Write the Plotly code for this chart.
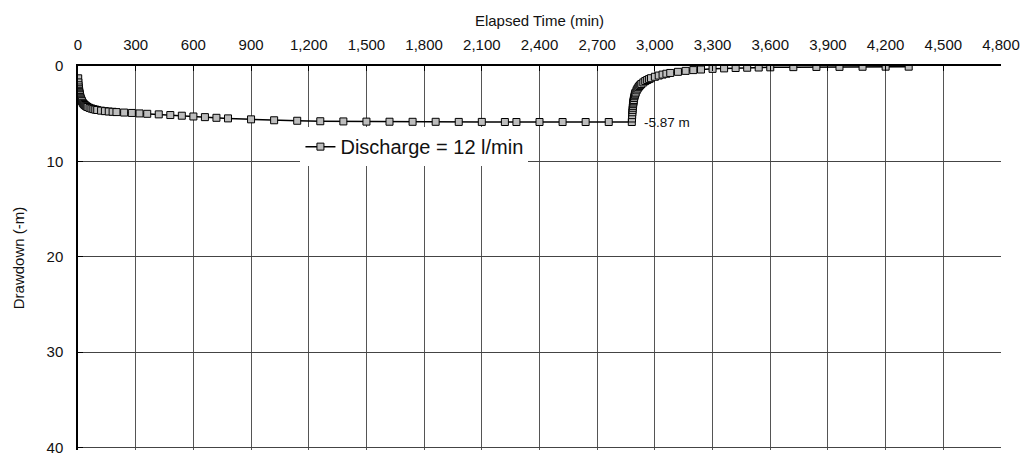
import plotly.graph_objects as go

# Pumping phase: elapsed time (min) and drawdown (m)
pump_time = [1, 2, 3, 4, 5, 6, 7, 8, 9, 10, 12, 14, 16, 18, 20, 25, 30, 35, 40, 45,
             50, 60, 70, 80, 90, 100, 120, 140, 160, 180, 200, 240, 280, 320, 360,
             420, 480, 540, 600, 660, 720, 780, 900, 1020, 1140, 1260, 1380, 1500,
             1620, 1740, 1860, 1980, 2100, 2220, 2280, 2400, 2520, 2640, 2760, 2880]
pump_drawdown = [1.29, 1.72, 2.02, 2.25, 2.44, 2.60, 2.74, 2.86, 2.97, 3.07, 3.24, 3.38,
                 3.50, 3.60, 3.69, 3.86, 3.99, 4.09, 4.17, 4.24, 4.30, 4.39, 4.46, 4.52,
                 4.57, 4.61, 4.68, 4.73, 4.77, 4.80, 4.83, 4.88, 4.92, 4.97, 5.01, 5.07,
                 5.14, 5.21, 5.29, 5.36, 5.43, 5.49, 5.59, 5.69, 5.74, 5.79, 5.81, 5.83,
                 5.84, 5.85, 5.85, 5.86, 5.86, 5.87, 5.87, 5.87, 5.87, 5.87, 5.87, 5.87]

# Recovery phase: elapsed time (min) and residual drawdown (m)
rec_time = [2881, 2882, 2883, 2884, 2885, 2886, 2887, 2888, 2889, 2890, 2892, 2894,
            2896, 2898, 2900, 2905, 2910, 2915, 2920, 2925, 2930, 2940, 2950, 2960,
            2970, 2980, 3000, 3020, 3040, 3060, 3080, 3120, 3160, 3200, 3240, 3300,
            3360, 3420, 3480, 3540, 3600, 3720, 3840, 3960, 4080, 4200, 4320]
rec_drawdown = [5.50, 5.15, 4.85, 4.60, 4.38, 4.18, 4.00, 3.84, 3.70, 3.57, 3.35, 3.17,
                3.02, 2.89, 2.78, 2.55, 2.37, 2.22, 2.09, 1.98, 1.88, 1.72, 1.58, 1.47,
                1.37, 1.28, 1.13, 1.00, 0.90, 0.81, 0.73, 0.61, 0.51, 0.43, 0.37, 0.30,
                0.25, 0.21, 0.18, 0.16, 0.14, 0.12, 0.10, 0.09, 0.08, 0.07, 0.07]

x_ticks = list(range(0, 4801, 300))
y_step = 10
series_name = "Discharge = 12 l/min"

times = pump_time + rec_time
drawdowns = pump_drawdown + rec_drawdown

font = "Arial, Liberation Sans, sans-serif"

fig = go.Figure()
fig.add_trace(go.Scatter(
    x=times, y=drawdowns, mode="lines+markers", name=series_name,
    line=dict(color="black", width=1.5),
    marker=dict(symbol="square", size=7, color="#bdbdbd",
                line=dict(color="black", width=1)),
))

# Final pumping drawdown label
end_t = pump_time[-1]
end_s = pump_drawdown[-1]
fig.add_annotation(x=end_t, y=end_s, text=f"-{end_s:.2f} m", showarrow=False,
                   xanchor="left", yanchor="middle", xshift=10,
                   font=dict(family=font, size=13.5, color="#111"))

fig.update_layout(
    width=1029, height=455,
    margin=dict(l=78, r=28, t=66, b=5, autoexpand=False),
    paper_bgcolor="white", plot_bgcolor="white",
    font=dict(family=font, color="#111"),
    showlegend=True,
    legend=dict(x=0.241, y=0.79, xanchor="left", yanchor="middle",
                bgcolor="white", borderwidth=0,
                entrywidth=245, entrywidthmode="pixels",
                font=dict(family=font, size=20, color="#111"),
                itemsizing="trace"),
    xaxis=dict(
        side="top", range=[0, 4800], tickvals=x_ticks,
        ticktext=[f"{v:,}" for v in x_ticks],
        showline=True, linecolor="black", linewidth=2,
        ticks="inside", ticklen=5, tickcolor="black",
        showgrid=True, gridcolor="#555", gridwidth=1, zeroline=False,
        tickfont=dict(family=font, size=15, color="#111"),
        ticklabelstandoff=8, automargin=False,
        title=dict(text="Elapsed Time (min)", standoff=6,
                   font=dict(family=font, size=15, color="#111")),
    ),
    yaxis=dict(
        range=[40.25, 0], tick0=0, dtick=y_step, tickmode="linear",
        showline=True, linecolor="black", linewidth=1.5,
        ticks="inside", ticklen=5, tickcolor="black",
        showgrid=True, gridcolor="#444", gridwidth=1, zeroline=False,
        tickfont=dict(family=font, size=15, color="#111"),
        ticklabelstandoff=10, automargin=False,
        ticklabeloverflow="allow",
        title=dict(text="Drawdown (-m)", standoff=18,
                   font=dict(family=font, size=15, color="#111")),
    ),
)

fig.write_html("out.html")
